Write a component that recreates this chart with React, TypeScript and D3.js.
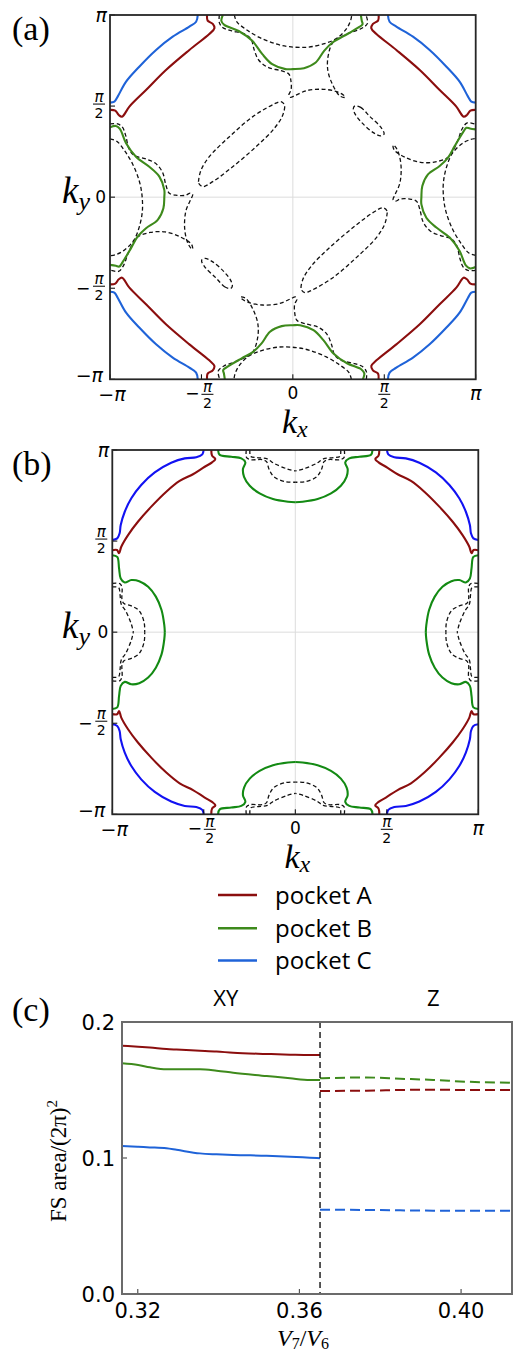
import React from "react";
import * as d3 from "d3";

type Pt = [number, number];

// ---------- Fermi-surface contours, (kx, ky) in units of π ----------
// Panel (a): one branch per contour; the other branches follow from symmetry ops.
const pocketA_a: Pt[] = [
  [-0.469, 1.0], [-0.466, 0.969], [-0.438, 0.951], [-0.429, 0.927], [-0.457, 0.896],
  [-0.566, 0.808], [-0.694, 0.698], [-0.803, 0.588], [-0.894, 0.497], [-0.934, 0.442],
  [-0.952, 0.451], [-0.971, 0.475], [-1.0, 0.479],
];
const pocketC_a: Pt[] = [
  [-0.52, 1.0], [-0.529, 0.963], [-0.566, 0.936], [-0.657, 0.881], [-0.748, 0.808],
  [-0.84, 0.716], [-0.912, 0.634], [-0.958, 0.552], [-0.976, 0.524], [-1.0, 0.519],
];
const pocketB_a: Pt[] = [
  [-1.0, 0.383], [-0.968, 0.391], [-0.946, 0.375], [-0.912, 0.296], [-0.858, 0.222],
  [-0.785, 0.167], [-0.73, 0.113], [-0.703, 0.04], [-0.703, 0.0], [-0.708, -0.061],
  [-0.739, -0.125], [-0.803, -0.171], [-0.849, -0.217], [-0.885, -0.28], [-0.931, -0.357],
  [-0.949, -0.381], [-0.968, -0.377], [-1.0, -0.372],
];
// dashed contours of the other band in (a)
const lobeOuter_a: Pt[] = [
  [-0.32, 1.0], [-0.307, 0.963], [-0.256, 0.921], [-0.183, 0.877], [-0.092, 0.841],
  [-0.019, 0.826], [0.076, 0.823], [0.167, 0.841], [0.24, 0.872], [0.295, 0.927],
  [0.317, 0.973], [0.322, 1.0],
];
const lobeInner_a: Pt[] = [
  [-0.402, 1.0], [-0.402, 0.958], [-0.384, 0.932], [-0.338, 0.914], [-0.265, 0.896],
  [-0.229, 0.867], [-0.211, 0.808], [-0.187, 0.753], [-0.137, 0.713], [-0.065, 0.694],
  [-0.022, 0.676], [-0.01, 0.634], [-0.01, 0.588], [-0.022, 0.561], [-0.014, 0.548],
  [0.014, 0.559], [0.076, 0.585], [0.167, 0.592], [0.24, 0.579], [0.276, 0.561],
  [0.286, 0.548], [0.258, 0.555], [0.218, 0.616], [0.191, 0.698], [0.194, 0.78],
  [0.222, 0.853], [0.304, 0.899], [0.377, 0.927], [0.408, 0.954], [0.4, 1.0],
];
const ellipseLong_a: Pt[] = [
  [-0.515, 0.094], [-0.515, 0.076], [-0.493, 0.058], [-0.438, 0.085], [-0.329, 0.167],
  [-0.201, 0.277], [-0.101, 0.378], [-0.055, 0.451], [-0.046, 0.506], [-0.065, 0.524],
  [-0.101, 0.512], [-0.219, 0.442], [-0.347, 0.332], [-0.457, 0.222], [-0.502, 0.149],
];
const ellipseShort_a: Pt[] = [
  [0.34, 0.501], [0.371, 0.493], [0.422, 0.442], [0.481, 0.384], [0.499, 0.347],
  [0.481, 0.336], [0.44, 0.354], [0.377, 0.409], [0.34, 0.457], [0.331, 0.488],
];

// Panel (b): top-left octant/quadrant branches
const pocketA_b: Pt[] = [
  [-0.459, 1.0], [-0.455, 0.969], [-0.437, 0.951], [-0.455, 0.932], [-0.495, 0.908],
  [-0.559, 0.867], [-0.632, 0.83], [-0.705, 0.771], [-0.787, 0.689], [-0.86, 0.606],
  [-0.914, 0.533], [-0.951, 0.469], [-0.963, 0.433], [-0.974, 0.451], [-1.0, 0.45],
];
const pocketC_b: Pt[] = [
  [-0.501, 1.0], [-0.508, 0.976], [-0.541, 0.96], [-0.604, 0.954], [-0.678, 0.93],
  [-0.768, 0.877], [-0.842, 0.808], [-0.896, 0.735], [-0.932, 0.661], [-0.954, 0.588],
  [-0.96, 0.543], [-0.973, 0.515], [-1.0, 0.506],
];
const pocketB_b: Pt[] = [
  [-0.422, 1.0], [-0.413, 0.973], [-0.35, 0.963], [-0.295, 0.954], [-0.273, 0.932],
  [-0.286, 0.896], [-0.28, 0.853], [-0.249, 0.804], [-0.195, 0.762], [-0.122, 0.731],
  [-0.04, 0.716], [0.0, 0.713],
];
const dashOuter_b: Pt[] = [
  [-0.248, 1.0], [-0.244, 0.965], [-0.208, 0.958], [-0.153, 0.951], [-0.117, 0.927],
  [-0.044, 0.896], [0.0, 0.885],
];
const dashInner_b: Pt[] = [
  [-0.268, 1.0], [-0.266, 0.958], [-0.244, 0.947], [-0.18, 0.947], [-0.157, 0.936],
  [-0.144, 0.896], [-0.117, 0.853], [-0.053, 0.826], [0.0, 0.823],
];

// ---------- (c) pocket areas vs V7/V6 ----------
const ratioXY = [0.3161, 0.3201, 0.323, 0.3271, 0.3296, 0.3354, 0.3395, 0.3436, 0.3519, 0.3577, 0.3626, 0.3651];
const areaA_XY = [0.1826, 0.1818, 0.1812, 0.1801, 0.1797, 0.1789, 0.1783, 0.1774, 0.1765, 0.176, 0.1757, 0.1757];
const areaB_XY = [0.1696, 0.1684, 0.1667, 0.1652, 0.1652, 0.1652, 0.1642, 0.1627, 0.1603, 0.1586, 0.1574, 0.1574];
const areaC_XY = [0.1088, 0.1082, 0.1078, 0.1071, 0.106, 0.1034, 0.1027, 0.1022, 0.1017, 0.101, 0.1002, 0.0998];
const ratioZ = [0.3651, 0.3766, 0.3849, 0.3931, 0.4014, 0.4126];
const areaA_Z = [0.1493, 0.1495, 0.15, 0.1502, 0.15, 0.15];
const areaB_Z = [0.1586, 0.1592, 0.1583, 0.1574, 0.1561, 0.1554];
const areaC_Z = [0.062, 0.0618, 0.0615, 0.0613, 0.0613, 0.0613];
const phaseBoundary = 0.3651;
const phaseNames = ["XY", "Z"];
const phaseNamePos = [0.3418, 0.3931];
const xTicksC = [0.32, 0.36, 0.4];
const yTicksC = [0.0, 0.1, 0.2];
const piTicks = [-1, -0.5, 0, 0.5, 1];
const legendLabels = ["pocket A", "pocket B", "pocket C"];

// ---------- styling ----------
const RED = "#8b0e0e";
const GREEN_A = "#3e8a1c";
const BLUE_A = "#1f63d8";
const GREEN_B = "#138a13";
const BLUE_B = "#1212f2";
const SANS = "DejaVu Sans, sans-serif";
const TEXT_SANS = "Open Sans, DejaVu Sans, sans-serif";
const SERIF = "Liberation Serif, DejaVu Serif, serif";

const OPS: Record<string, (p: Pt) => Pt> = {
  id: ([x, y]) => [x, y],
  mx: ([x, y]) => [-x, y],
  my: ([x, y]) => [x, -y],
  inv: ([x, y]) => [-x, -y],
  sw: ([x, y]) => [y, x],
  asw: ([x, y]) => [-y, -x],
  r90: ([x, y]) => [-y, x],
  r270: ([x, y]) => [y, -x],
};
const MIRRORS = ["id", "mx", "my", "inv"];
const D4 = ["id", "mx", "my", "inv", "sw", "asw", "r90", "r270"];
const DIAG = ["id", "inv", "sw", "asw"];

type Contour = { pts: Pt[]; ops: string[]; color: string; dashed?: boolean; closed?: boolean };

type Frame = { left: number; right: number; top: number; bottom: number };

const FRAME_A: Frame = { left: 110, right: 475.7, top: 15, bottom: 379.3 };
const FRAME_B: Frame = { left: 112.3, right: 478.3, top: 450, bottom: 814.3 };
const FRAME_C: Frame = { left: 122, right: 512, top: 1022, bottom: 1294 };

function PiFrac({ cx, bar }: { cx: number; bar: number }) {
  return (
    <g>
      <text x={cx} y={bar - 2} textAnchor="middle" fontFamily={SANS} fontStyle="italic" fontSize={15}>π</text>
      <line x1={cx - 6} x2={cx + 6} y1={bar} y2={bar} stroke="#000" strokeWidth={1} />
      <text x={cx} y={bar + 14} textAnchor="middle" fontFamily={SANS} fontSize={14}>2</text>
    </g>
  );
}

function FermiPanel({ id, frame, contours, tag }: { id: string; frame: Frame; contours: Contour[]; tag: string }) {
  const sx = d3.scaleLinear().domain([-1, 1]).range([frame.left, frame.right]);
  const sy = d3.scaleLinear().domain([-1, 1]).range([frame.bottom, frame.top]);
  const open = d3.line<Pt>().x((d) => sx(d[0])).y((d) => sy(d[1])).curve(d3.curveCatmullRom.alpha(0.5));
  const closed = d3.line<Pt>().x((d) => sx(d[0])).y((d) => sy(d[1])).curve(d3.curveCatmullRomClosed.alpha(0.5));
  const cy0 = sy(0);
  return (
    <g>
      <defs>
        <clipPath id={id}>
          <rect x={frame.left} y={frame.top} width={frame.right - frame.left} height={frame.bottom - frame.top} />
        </clipPath>
      </defs>
      <line x1={sx(0)} x2={sx(0)} y1={frame.top} y2={frame.bottom} stroke="#dcdcdc" strokeWidth={1} />
      <line x1={frame.left} x2={frame.right} y1={cy0} y2={cy0} stroke="#dcdcdc" strokeWidth={1} />
      <g clipPath={`url(#${id})`}>
        {contours.map((c, i) =>
          c.ops.map((op) => (
            <path
              key={`${i}-${op}`}
              d={(c.closed ? closed : open)(c.pts.map(OPS[op])) || ""}
              fill="none"
              stroke={c.color}
              strokeWidth={c.dashed ? 1.3 : 2.1}
              strokeDasharray={c.dashed ? "4,2.6" : undefined}
              strokeLinejoin="round"
            />
          ))
        )}
      </g>
      {/* inward ticks on left and bottom */}
      {piTicks.map((t) => (
        <g key={`t${t}`}>
          <line x1={frame.left} x2={frame.left + 5} y1={sy(t)} y2={sy(t)} stroke="#000" strokeWidth={1} />
          <line x1={sx(t)} x2={sx(t)} y1={frame.bottom} y2={frame.bottom - 5} stroke="#000" strokeWidth={1} />
        </g>
      ))}
      <rect
        x={frame.left}
        y={frame.top}
        width={frame.right - frame.left}
        height={frame.bottom - frame.top}
        fill="none"
        stroke="#262626"
        strokeWidth={1.8}
      />
      {/* y tick labels */}
      {piTicks.map((t) => {
        const y = sy(t);
        const xr = frame.left - 3;
        if (t === 1)
          return <text key={`yl${t}`} x={xr} y={y + 7} textAnchor="end" fontFamily={SANS} fontStyle="italic" fontSize={19}>π</text>;
        if (t === -1)
          return (
            <text key={`yl${t}`} x={xr - 4} y={y + 3} textAnchor="end" fontFamily={SANS} fontSize={19}>
              −<tspan fontStyle="italic">π</tspan>
            </text>
          );
        if (t === 0)
          return <text key={`yl${t}`} x={xr - 1} y={y + 6} textAnchor="end" fontFamily={SANS} fontSize={17}>0</text>;
        return (
          <g key={`yl${t}`}>
            {t < 0 && <text x={frame.left - 27} y={y + 6} textAnchor="middle" fontFamily={SANS} fontSize={17}>−</text>}
            <PiFrac cx={frame.left - 11} bar={y - 2} />
          </g>
        );
      })}
      {/* x tick labels */}
      {piTicks.map((t) => {
        const x = sx(t);
        const yb = frame.bottom + 21;
        if (t === 1)
          return <text key={`xl${t}`} x={x} y={yb} textAnchor="middle" fontFamily={SANS} fontStyle="italic" fontSize={19}>π</text>;
        if (t === -1)
          return (
            <text key={`xl${t}`} x={x + 2} y={yb + 1} textAnchor="middle" fontFamily={SANS} fontSize={19}>
              −<tspan fontStyle="italic">π</tspan>
            </text>
          );
        if (t === 0)
          return <text key={`xl${t}`} x={x} y={frame.bottom + 20} textAnchor="middle" fontFamily={SANS} fontSize={17}>0</text>;
        return (
          <g key={`xl${t}`}>
            {t < 0 && <text x={x - 9} y={frame.bottom + 20} textAnchor="middle" fontFamily={SANS} fontSize={17}>−</text>}
            <PiFrac cx={t < 0 ? x + 6 : x} bar={frame.bottom + 15} />
          </g>
        );
      })}
      <text x={sx(0) + 2} y={frame.bottom + 54} textAnchor="middle" fontFamily={SERIF} fontStyle="italic" fontSize={34}>
        k<tspan dy={4} fontSize={24}>x</tspan>
      </text>
      <text x={62} y={cy0 + 6} fontFamily={SERIF} fontStyle="italic" fontSize={37}>
        k<tspan dy={7} fontSize={26}>y</tspan>
      </text>
      <text x={12} y={frame.top + 25} fontFamily={SERIF} fontSize={34}>{tag}</text>
    </g>
  );
}

function AreaPanel() {
  const f = FRAME_C;
  const x = d3.scaleLinear().domain([0.3161, 0.4126]).range([f.left, f.right]);
  const y = d3.scaleLinear().domain([0, 0.2]).range([f.bottom, f.top]);
  const line = d3
    .line<[number, number]>()
    .x((d) => x(d[0]))
    .y((d) => y(d[1]))
    .curve(d3.curveMonotoneX);
  const zip = (xs: number[], ys: number[]) => xs.map((v, i) => [v, ys[i]] as [number, number]);
  const series = [
    { xs: ratioXY, ys: areaA_XY, color: RED, dashed: false },
    { xs: ratioXY, ys: areaB_XY, color: GREEN_A, dashed: false },
    { xs: ratioXY, ys: areaC_XY, color: BLUE_A, dashed: false },
    { xs: ratioZ, ys: areaB_Z, color: GREEN_A, dashed: true },
    { xs: ratioZ, ys: areaA_Z, color: RED, dashed: true },
    { xs: ratioZ, ys: areaC_Z, color: BLUE_A, dashed: true },
  ];
  return (
    <g>
      <defs>
        <clipPath id="clipC">
          <rect x={f.left} y={f.top} width={f.right - f.left} height={f.bottom - f.top} />
        </clipPath>
      </defs>
      <g clipPath="url(#clipC)">
        {series.map((s, i) => (
          <path
            key={i}
            d={line(zip(s.xs, s.ys)) || ""}
            fill="none"
            stroke={s.color}
            strokeWidth={2}
            strokeDasharray={s.dashed ? "10,5" : undefined}
          />
        ))}
      </g>
      <line
        x1={x(phaseBoundary)}
        x2={x(phaseBoundary)}
        y1={f.top}
        y2={f.bottom}
        stroke="#111"
        strokeWidth={1.4}
        strokeDasharray="6,4"
      />
      {xTicksC.map((t) => (
        <g key={`xt${t}`}>
          <line x1={x(t)} x2={x(t)} y1={f.bottom} y2={f.bottom - 5} stroke="#555" strokeWidth={1.2} />
          <text x={x(t)} y={f.bottom + 24} textAnchor="middle" fontFamily={SANS} fontSize={21}>
            {t.toFixed(2)}
          </text>
        </g>
      ))}
      {yTicksC.map((t) => (
        <g key={`yt${t}`}>
          <line x1={f.left} x2={f.left + 5} y1={y(t)} y2={y(t)} stroke="#555" strokeWidth={1.2} />
          <text x={f.left - 7} y={y(t) + 8} textAnchor="end" fontFamily={SANS} fontSize={21}>
            {t.toFixed(1)}
          </text>
        </g>
      ))}
      <rect
        x={f.left}
        y={f.top}
        width={f.right - f.left}
        height={f.bottom - f.top}
        fill="none"
        stroke="#6b6b6b"
        strokeWidth={2}
      />
      {phaseNames.map((n, i) => (
        <text key={n} x={x(phaseNamePos[i])} y={1006} textAnchor="middle" fontFamily={TEXT_SANS} fontSize={22}>
          {n}
        </text>
      ))}
      <text transform={`translate(66,${(f.top + f.bottom) / 2 + 3}) rotate(-90)`} textAnchor="middle" fontFamily={SERIF} fontSize={23}>
        FS area/(2π)<tspan dy={-9} fontSize={15}>2</tspan>
      </text>
      <text x={303} y={1346} textAnchor="middle" fontFamily={SERIF} fontSize={24}>
        <tspan fontStyle="italic">V</tspan>
        <tspan dy={3} fontSize={16}>7</tspan>
        <tspan dy={-3}>/</tspan>
        <tspan fontStyle="italic">V</tspan>
        <tspan dy={3} fontSize={16}>6</tspan>
      </text>
      <text x={12} y={1021} fontFamily={SERIF} fontSize={34}>(c)</text>
    </g>
  );
}

function Legend() {
  const colors = [RED, GREEN_A, BLUE_A];
  const rows = [895, 928.3, 960.5];
  return (
    <g>
      {legendLabels.map((l, i) => (
        <g key={l}>
          <line x1={218} x2={257} y1={rows[i]} y2={rows[i]} stroke={colors[i]} strokeWidth={2.6} />
          <text x={275} y={rows[i] + 8.5} fontFamily={TEXT_SANS} fontSize={24}>{l}</text>
        </g>
      ))}
    </g>
  );
}

export default function App() {
  const contoursA: Contour[] = [
    { pts: ellipseLong_a, ops: ["id", "inv"], color: "#111", dashed: true, closed: true },
    { pts: ellipseShort_a, ops: ["id", "inv"], color: "#111", dashed: true, closed: true },
    { pts: lobeOuter_a, ops: DIAG, color: "#111", dashed: true },
    { pts: lobeInner_a, ops: DIAG, color: "#111", dashed: true },
    { pts: pocketB_a, ops: DIAG, color: GREEN_A },
    { pts: pocketA_a, ops: MIRRORS, color: RED },
    { pts: pocketC_a, ops: MIRRORS, color: BLUE_A },
  ];
  const contoursB: Contour[] = [
    { pts: dashOuter_b, ops: D4, color: "#111", dashed: true },
    { pts: dashInner_b, ops: D4, color: "#111", dashed: true },
    { pts: pocketB_b, ops: D4, color: GREEN_B },
    { pts: pocketA_b, ops: MIRRORS, color: RED },
    { pts: pocketC_b, ops: MIRRORS, color: BLUE_B },
  ];
  return (
    <svg
      width={513}
      height={1353}
      style={{ position: "absolute", left: 0, top: 0, background: "#fff" }}
      xmlns="http://www.w3.org/2000/svg"
    >
      <rect width={513} height={1353} fill="#fff" />
      <FermiPanel id="clipA" frame={FRAME_A} contours={contoursA} tag="(a)" />
      <FermiPanel id="clipB" frame={FRAME_B} contours={contoursB} tag="(b)" />
      <Legend />
      <AreaPanel />
    </svg>
  );
}
